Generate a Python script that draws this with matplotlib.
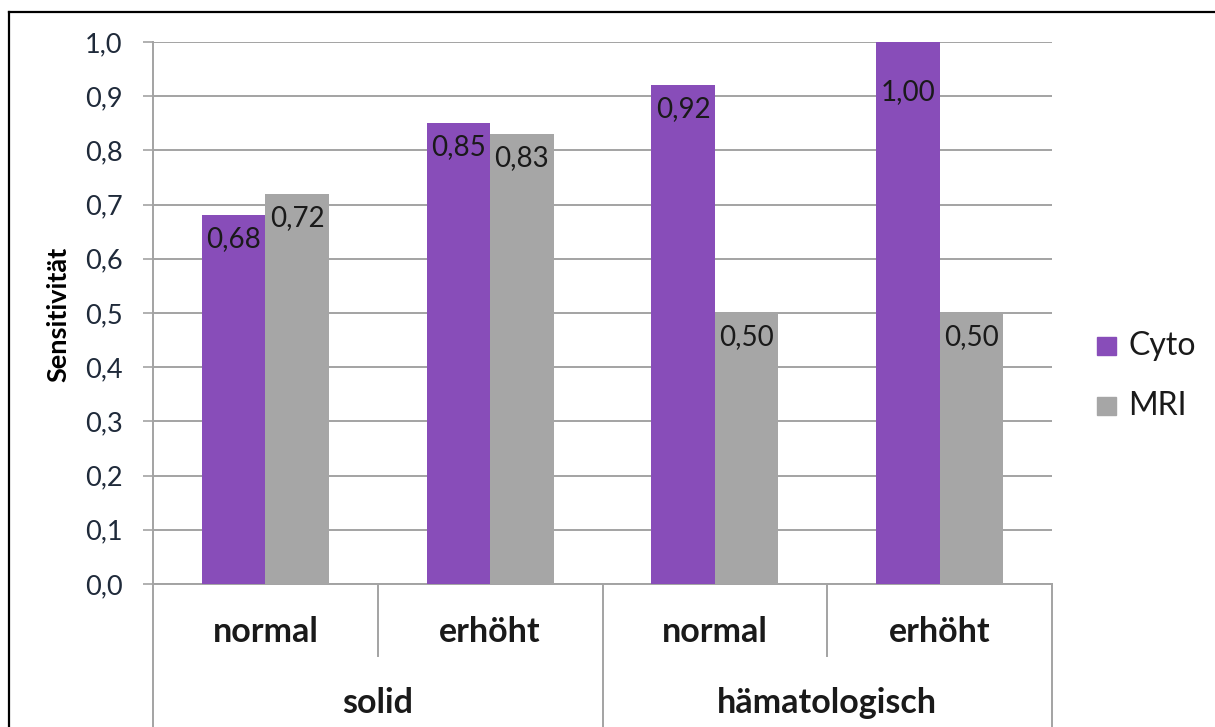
import matplotlib
matplotlib.use("Agg")
import matplotlib.pyplot as plt
from matplotlib.lines import Line2D
from matplotlib.patches import Rectangle
import numpy as np

# Sensitivity of cytology vs. MRI by tumour type and protein level
subgroups = ["normal", "erhöht", "normal", "erhöht"]
groups = ["solid", "hämatologisch"]
cyto = [0.68, 0.85, 0.92, 1.00]
mri = [0.72, 0.83, 0.50, 0.50]
series_names = ["Cyto", "MRI"]
yticks = [0.0, 0.1, 0.2, 0.3, 0.4, 0.5, 0.6, 0.7, 0.8, 0.9, 1.0]

PURPLE = "#884DB9"
GREY = "#A6A6A6"
GRID = "#A3A3A3"
TEXT = "#1A1A1A"

plt.rcParams["font.family"] = ["Lato", "DejaVu Sans"]

W, H = 1215, 727
fig = plt.figure(figsize=(W / 100, H / 100), dpi=100)
ax = fig.add_axes([153 / W, 1 - 584 / H, (1052 - 153) / W, (584 - 42) / H])

x = np.arange(len(subgroups))
bw = 0.283
b1 = ax.bar(x - bw / 2, cyto, bw, color=PURPLE, zorder=3)
b2 = ax.bar(x + bw / 2, mri, bw, color=GREY, zorder=3)

ax.set_xlim(-0.5, len(subgroups) - 0.5)
ax.set_ylim(0, 1.0)
ax.set_yticks(yticks)
ax.set_yticklabels([f"{v:.1f}".replace(".", ",") for v in yticks],
                   fontsize=19.5, color="#1F2A3A")
ax.yaxis.grid(True, color=GRID, linewidth=1.4, zorder=0)
ax.tick_params(axis="y", length=7, width=1.2, color=GRID, pad=15)
ax.tick_params(axis="x", length=0, labelbottom=False)
for s in ["top", "right"]:
    ax.spines[s].set_visible(False)
ax.spines["left"].set_color(GRID)
ax.spines["left"].set_linewidth(1.4)
ax.spines["bottom"].set_color(GRID)
ax.spines["bottom"].set_linewidth(1.4)

fig.text(58 / W, 1 - 314 / H, "Sensitivität", rotation=90, ha="center",
         va="center", fontsize=19.5, fontweight="bold", color="black")

# value labels inside the top of each bar
for bars, vals in ((b1, cyto), (b2, mri)):
    for rect, v in zip(bars, vals):
        off = -50 if v >= ax.get_ylim()[1] else -24
        ax.annotate(f"{v:.2f}".replace(".", ","),
                    (rect.get_x() + rect.get_width() / 2, v),
                    xytext=(0, off), textcoords="offset pixels",
                    ha="center", va="center", fontsize=20, color=TEXT,
                    zorder=4)

# two-level category axis below the plot
tr = ax.get_xaxis_transform()
y_sub_end = -72 / 542
y_bottom = -(727 - 584) / 542 - 0.01
for i, xs in enumerate(np.arange(-0.5, len(subgroups) + 0.5, 1.0)):
    y_end = y_bottom if i % 2 == 0 else y_sub_end
    ax.plot([xs, xs], [0, y_end], transform=tr, color=GRID, lw=1.4,
            clip_on=False)
for xi, lab in zip(x, subgroups):
    ax.text(xi, -(642 - 584) / 542, lab, transform=tr, ha="center",
            va="baseline", fontsize=24.5, fontweight="bold", color=TEXT)
for gi, lab in enumerate(groups):
    ax.text(2 * gi + 0.5, -(713 - 584) / 542, lab, transform=tr,
            ha="center", va="baseline", fontsize=24.5, fontweight="bold",
            color=TEXT)

# legend drawn as squares with labels to the right of the plot
for k, (name, col) in enumerate(zip(series_names, [PURPLE, GREY])):
    yc = 1 - (346 + 60 * k) / H
    fig.patches.append(Rectangle((1097 / W, yc - 9 / H), 19 / W, 18 / H,
                                 transform=fig.transFigure, color=col))
    fig.text(1128 / W, yc, name, ha="left", va="center", fontsize=23,
             color=TEXT)

# outer chart frame
fig.add_artist(Line2D([8.5 / W, 8.5 / W], [0, 1 - 12 / H], color="black",
                      lw=1.6, transform=fig.transFigure))
fig.add_artist(Line2D([8.5 / W, 1], [1 - 12 / H, 1 - 12 / H], color="black",
                      lw=1.6, transform=fig.transFigure))

fig.savefig("out.png", dpi=100, facecolor="white")
